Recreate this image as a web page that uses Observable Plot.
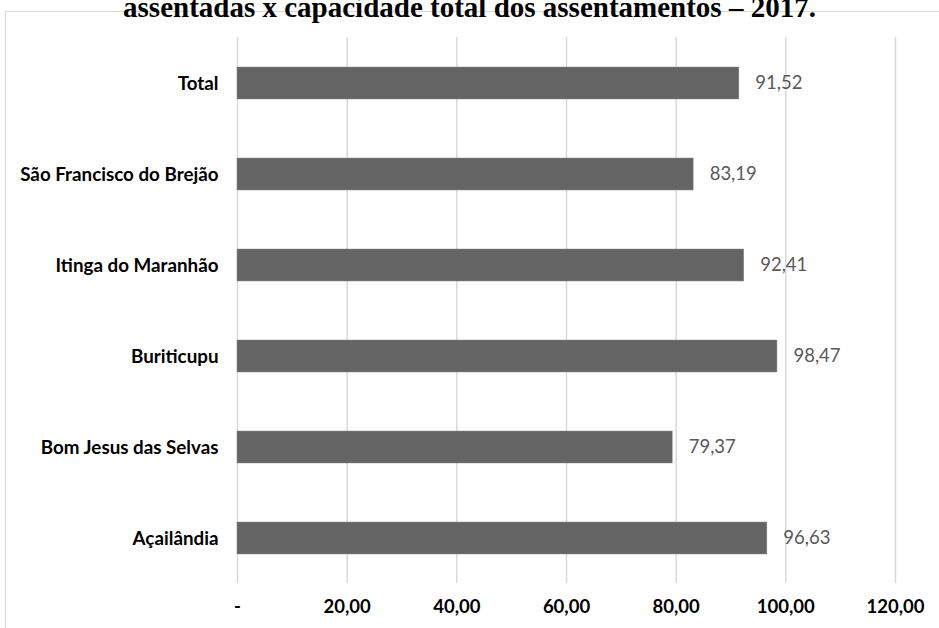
<!DOCTYPE html>
<html><head><meta charset="utf-8">
<script src="https://cdn.jsdelivr.net/npm/d3@7"></script>
<script src="https://cdn.jsdelivr.net/npm/@observablehq/plot@0.6"></script>
<style>
body{margin:0;background:#fff;}
#wrap{position:relative;width:939px;height:628px;overflow:hidden;background:#fff;}
#title{position:absolute;left:0;width:939px;top:-7px;text-align:center;font-family:"Liberation Serif","Times New Roman",serif;font-weight:bold;font-size:29px;line-height:29px;white-space:nowrap;color:#000;}
#box{position:absolute;left:5px;top:11px;width:960px;height:700px;border:1px solid #d9d9d9;box-sizing:border-box;}
#chart{position:absolute;left:0;top:0;}
</style></head>
<body><div id="wrap"><div id="box"></div><div id="title">assentadas x capacidade total dos assentamentos – 2017.</div><div id="chart"></div></div>
<script>
const categories = ["Total","São Francisco do Brejão","Itinga do Maranhão","Buriticupu","Bom Jesus das Selvas","Açailândia"];
const values = [91.52, 83.19, 92.41, 98.47, 79.37, 96.63];
const xTicks = [0, 20, 40, 60, 80, 100, 120];
const data = categories.map((c, i) => ({c, v: values[i]}));
const fmt = v => v === 0 ? "-" : v.toFixed(2).replace(".", ",");
const plot = Plot.plot({
  width: 939, height: 628,
  marginLeft: 237, marginRight: 44, marginTop: 37, marginBottom: 45,
  style: {fontFamily: "Lato, sans-serif", background: "transparent"},
  x: {domain: [0, 120], ticks: xTicks, tickFormat: fmt, label: null},
  y: {domain: categories, paddingInner: 0.65, paddingOuter: 0.325, label: null},
  marks: [
    Plot.ruleX(xTicks, {stroke: "#d9d9d9", strokeWidth: 1.5}),
    Plot.barX(data, {y: "c", x: "v", fill: "#646464", stroke: "#8a8a8a", strokeWidth: 0.5}),
    Plot.text(data, {y: "c", x: "v", text: d => fmt(d.v), textAnchor: "start", dx: 16, fill: "#595959", fontSize: 18.5}),
    Plot.axisX({ticks: xTicks, tickFormat: fmt, tickSize: 0, tickPadding: 16, fontSize: 18.5, fontWeight: "bold", fill: "#000", label: null}),
    Plot.axisY({tickSize: 0, tickPadding: 19, fontSize: 18.8, fontWeight: "bold", fill: "#000", label: null})
  ]
});
document.getElementById("chart").appendChild(plot);
</script></body></html>
